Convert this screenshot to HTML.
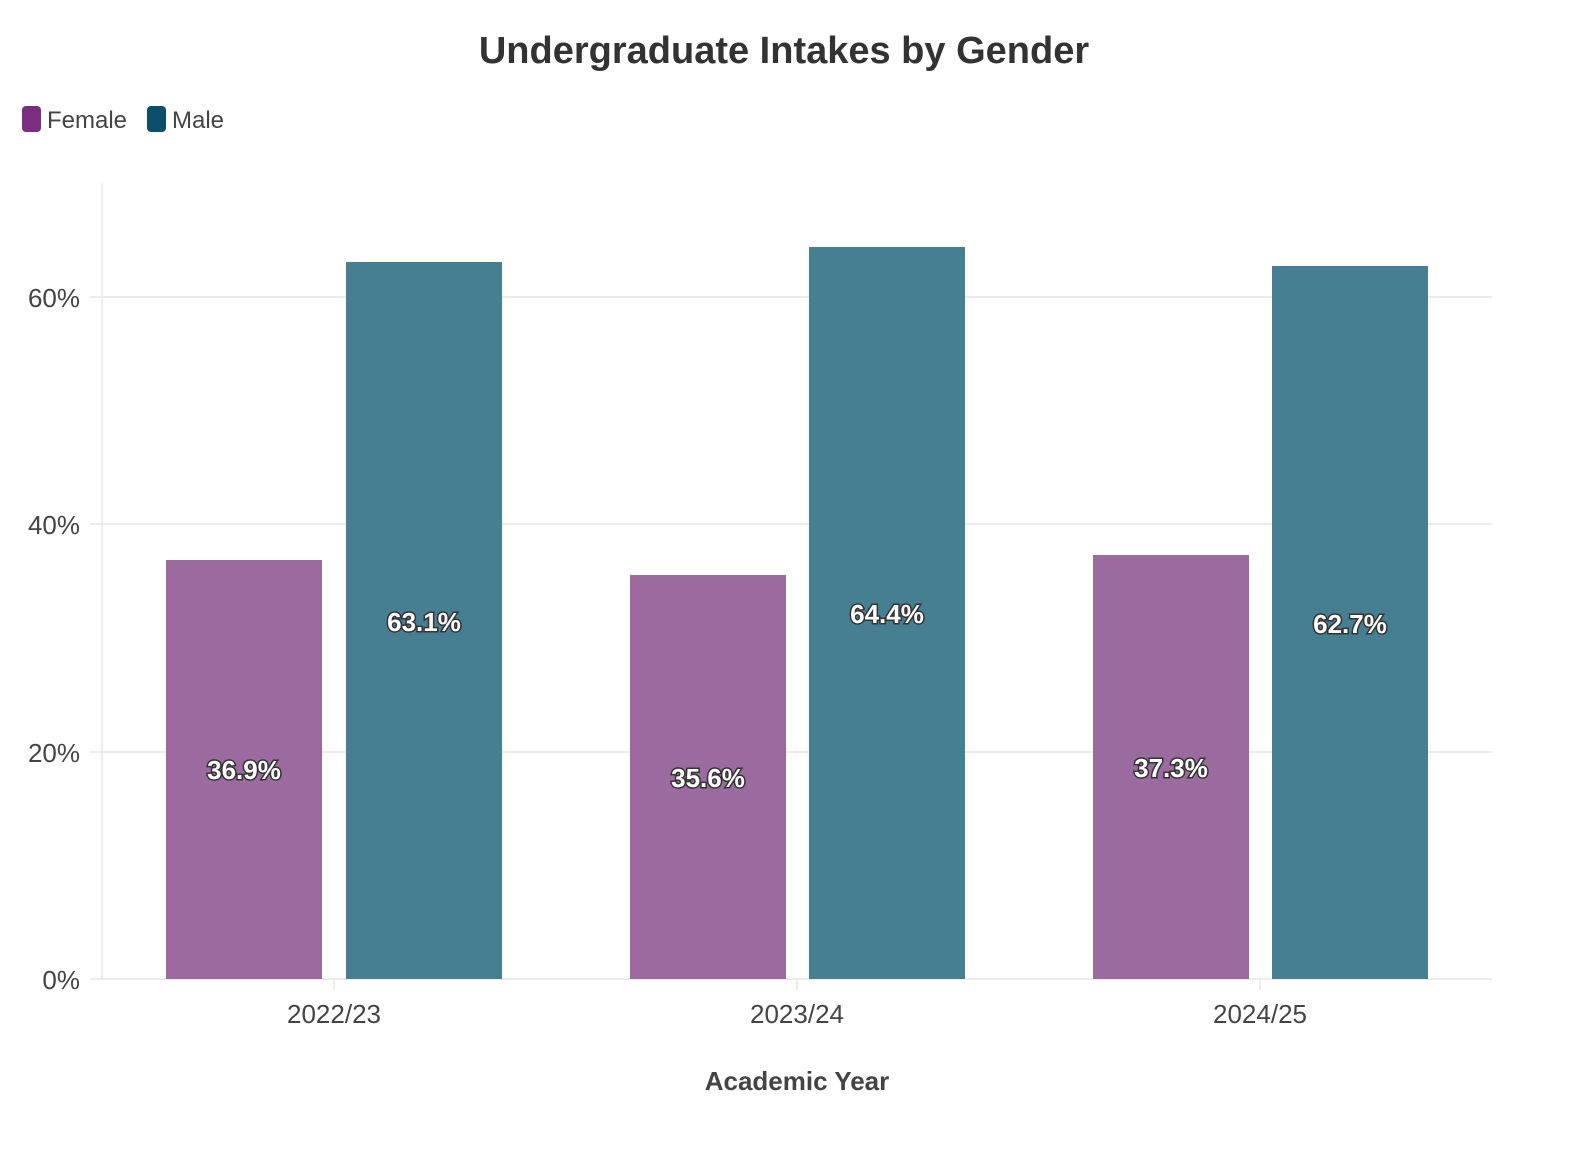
<!DOCTYPE html>
<html><head><meta charset="utf-8"><style>
html,body{margin:0;padding:0;background:#fff;}
svg{display:block;font-family:"Liberation Sans",sans-serif;}
.lbl{font-size:26px;font-weight:bold;fill:#fff;stroke:#333;stroke-width:3px;paint-order:stroke;text-anchor:middle;}
.tk{font-size:26px;fill:#444;}
</style></head><body>
<svg width="1588" height="1150" viewBox="0 0 1588 1150">
<text x="784" y="63" text-anchor="middle" font-size="38" font-weight="bold" fill="#333">Undergraduate Intakes by Gender</text>
<rect x="22" y="106" width="19" height="26" rx="4" fill="#7b2d82"/>
<text x="47" y="128" font-size="24" fill="#444">Female</text>
<rect x="147" y="106" width="19" height="26" rx="4" fill="#0c4f6b"/>
<text x="172" y="128" font-size="24" fill="#444">Male</text>
<g stroke="#e6e6e6" stroke-width="1.5">
<line x1="102" y1="183" x2="102" y2="979"/>
<line x1="102" y1="297" x2="1492" y2="297"/>
<line x1="102" y1="524" x2="1492" y2="524"/>
<line x1="102" y1="752" x2="1492" y2="752"/>
<line x1="90" y1="979" x2="1492" y2="979"/>
<line x1="90" y1="297" x2="102" y2="297"/>
<line x1="90" y1="524" x2="102" y2="524"/>
<line x1="90" y1="752" x2="102" y2="752"/>
<line x1="334" y1="979" x2="334" y2="990"/>
<line x1="797" y1="979" x2="797" y2="990"/>
<line x1="1260" y1="979" x2="1260" y2="990"/>
</g>
<g class="tk" text-anchor="end">
<text x="80" y="307">60%</text>
<text x="80" y="534">40%</text>
<text x="80" y="762">20%</text>
<text x="80" y="989">0%</text>
</g>
<g class="tk" text-anchor="middle">
<text x="334" y="1023">2022/23</text>
<text x="797" y="1023">2023/24</text>
<text x="1260" y="1023">2024/25</text>
</g>
<text x="797" y="1090" text-anchor="middle" font-size="26" font-weight="bold" fill="#444">Academic Year</text>
<g fill="#9b6a9f">
<rect x="166" y="560" width="156" height="419"/>
<rect x="630" y="575" width="156" height="404"/>
<rect x="1093" y="555" width="156" height="424"/>
</g>
<g fill="#477f92">
<rect x="346" y="262" width="156" height="717"/>
<rect x="809" y="247" width="156" height="732"/>
<rect x="1272" y="266" width="156" height="713"/>
</g>
<text class="lbl" x="244" y="779">36.9%</text>
<text class="lbl" x="708" y="787">35.6%</text>
<text class="lbl" x="1171" y="777">37.3%</text>
<text class="lbl" x="424" y="631">63.1%</text>
<text class="lbl" x="887" y="623">64.4%</text>
<text class="lbl" x="1350" y="633">62.7%</text>
</svg>
</body></html>
